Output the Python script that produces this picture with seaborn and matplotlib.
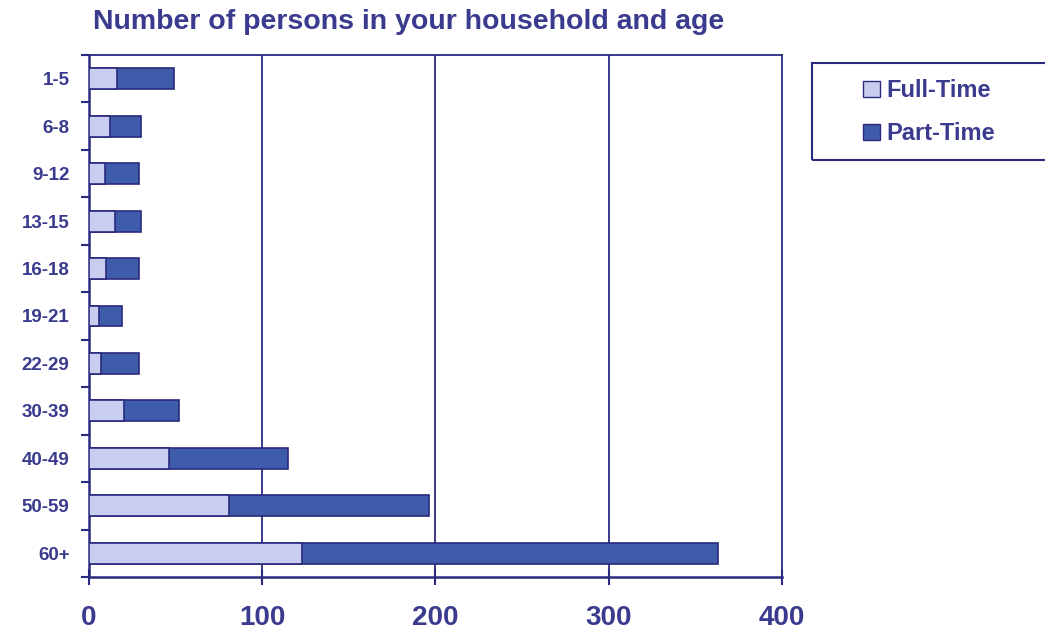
import matplotlib
matplotlib.use("Agg")
import matplotlib.pyplot as plt
from matplotlib.patches import Patch, Rectangle
from matplotlib.ticker import FixedLocator
import pandas as pd
import seaborn as sns

ages = ["1-5", "6-8", "9-12", "13-15", "16-18", "19-21", "22-29", "30-39", "40-49", "50-59", "60+"]
full_time = [16, 12, 9, 15, 10, 6, 7, 20, 46, 81, 123]
part_time = [33, 18, 20, 15, 19, 13, 22, 32, 69, 115, 240]
x_ticks = [0, 100, 200, 300, 400]

navy = "#2a2a7e"
text_col = "#3a3a8e"
full_col = "#c9cdef"
part_col = "#3f5cab"
fam = ["Liberation Sans", "DejaVu Sans"]

df = pd.DataFrame({"age": ages, "full": full_time, "part": part_time})
df["total"] = df["full"] + df["part"]

sns.set_style("white")
plt.rcParams["font.family"] = fam

fig = plt.figure(figsize=(10.45, 6.37), dpi=100)
ax = fig.add_axes([0.0852, 0.0942, 0.663, 0.8195])

sns.barplot(data=df, x="total", y="age", order=ages, color=part_col, saturation=1,
            width=0.44, edgecolor=navy, linewidth=1.2, ax=ax, zorder=3)
sns.barplot(data=df, x="full", y="age", order=ages, color=full_col, saturation=1,
            width=0.44, edgecolor=navy, linewidth=1.2, ax=ax, zorder=4)

ax.set_xlim(0, 400)
ax.set_ylim(10.5, -0.5)
ax.set_xticks(x_ticks)
ax.set_xlabel("")
ax.set_ylabel("")

for v in x_ticks[1:-1]:
    ax.axvline(v, color=navy, lw=1.3, zorder=1)

for s in ax.spines.values():
    s.set_color(navy)
    s.set_linewidth(1.3)
ax.spines["left"].set_linewidth(1.8)
ax.spines["bottom"].set_linewidth(1.8)

ax.tick_params(axis="x", direction="inout", length=12, width=1.5, color=navy,
               pad=14, labelsize=20, labelcolor=text_col, bottom=True)
ax.tick_params(axis="y", which="major", length=0, pad=14, labelsize=13.5, labelcolor=text_col)
ax.yaxis.set_minor_locator(FixedLocator([i + 0.5 for i in range(-1, len(ages))]))
ax.tick_params(axis="y", which="minor", direction="out", length=6, width=1.5, color=navy, left=True)
for lab in ax.get_xticklabels() + ax.get_yticklabels():
    lab.set_fontweight("bold")

fig.text(0.089, 0.966, "Number of persons in your household and age", fontsize=20.5,
         fontweight="bold", color=text_col, ha="left", va="center")

fig.patches.append(Rectangle((812 / 1045, 1 - 160 / 637), 240 / 1045, 97 / 637,
                             transform=fig.transFigure, fill=False, edgecolor=navy, lw=1.5))
handles = [Patch(facecolor=full_col, edgecolor=navy, label="Full-Time"),
           Patch(facecolor=part_col, edgecolor=navy, label="Part-Time")]
leg = fig.legend(handles=handles, loc="upper left", bbox_to_anchor=(842 / 1045, 1 - 58 / 637),
                 frameon=False, handlelength=0.7, handleheight=0.7,
                 handletextpad=0.3, labelspacing=0.85,
                 prop={"family": fam, "weight": "bold", "size": 17})
for t in leg.get_texts():
    t.set_color(text_col)

fig.savefig("out.png", dpi=100, facecolor="white")
